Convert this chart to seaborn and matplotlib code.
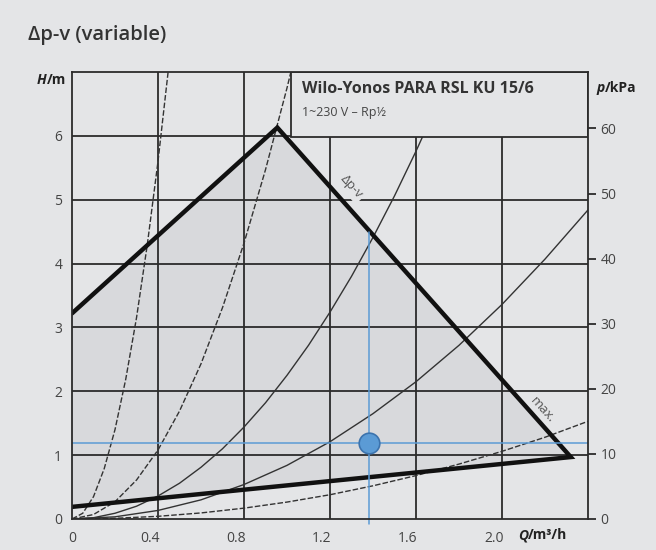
import numpy as np
import pandas as pd
import seaborn as sns
import matplotlib.pyplot as plt
from matplotlib.patches import Rectangle
from matplotlib.transforms import ScaledTranslation

# system curves (Q in m3/h, H in m)
q_a = [0, 0.05, 0.1, 0.15, 0.2, 0.25, 0.3, 0.35, 0.4, 0.447]
h_a = [0, 0.09, 0.35, 0.79, 1.4, 2.19, 3.15, 4.29, 5.6, 7.0]
q_b = [0, 0.1, 0.2, 0.3, 0.4, 0.5, 0.6, 0.7, 0.8, 0.9, 1.0, 1.018]
h_b = [0, 0.07, 0.27, 0.61, 1.08, 1.69, 2.43, 3.31, 4.32, 5.47, 6.75, 7.0]
q_c = [0, 0.1, 0.2, 0.3, 0.4, 0.5, 0.6, 0.7, 0.8, 0.9, 1.0, 1.1, 1.2, 1.3,
       1.4, 1.5, 1.6, 1.7]
h_c = [0, 0.02, 0.09, 0.20, 0.36, 0.56, 0.81, 1.10, 1.44, 1.82, 2.25, 2.72,
       3.24, 3.80, 4.41, 5.06, 5.76, 6.50]
q_d = [0, 0.2, 0.4, 0.6, 0.8, 1.0, 1.2, 1.4, 1.6, 1.8, 2.0, 2.2, 2.4]
h_d = [0, 0.034, 0.134, 0.30, 0.54, 0.84, 1.21, 1.65, 2.15, 2.72, 3.36, 4.07,
       4.84]
q_e = [0, 0.2, 0.4, 0.6, 0.8, 1.0, 1.2, 1.4, 1.6, 1.8, 2.0, 2.2, 2.4]
h_e = [0, 0.011, 0.042, 0.095, 0.17, 0.265, 0.38, 0.52, 0.68, 0.86, 1.06,
       1.28, 1.53]

# operating range of the pump (Δp-v): left, top, right, bottom-left
q_range = [0, 0.955, 2.32, 0]
h_range = [3.22, 6.13, 0.97, 0.19]

# duty point
q_point = 1.38
h_point = 1.19

x_ticks = [0, 0.4, 0.8, 1.2, 1.6, 2.0]
x_labels = ["0", "0.4", "0.8", "1.2", "1.6", "2.0"]
y_ticks = [0, 1, 2, 3, 4, 5, 6]
kpa_ticks = [0, 10, 20, 30, 40, 50, 60]

bg = "#e4e5e7"
ink = "#2b2b2b"
blue = "#5b9bd5"

sns.set_theme(style="white")
plt.rcParams["font.family"] = ["Open Sans", "DejaVu Sans"]

fig = plt.figure(figsize=(6.56, 5.5), dpi=100, facecolor=bg)
ax = fig.add_axes([72 / 656, 1 - 519 / 550, 516 / 656, 447 / 550])
ax.set_facecolor(bg)
ax.set_xlim(0, 2.4)
ax.set_ylim(0, 7)

# shaded operating range
ax.fill(q_range, h_range, color="#d8d9dc", zorder=1, lw=0)

# grid
for x in x_ticks[1:]:
    ax.axvline(x, color=ink, lw=1.3, zorder=2)
for y in y_ticks[1:]:
    ax.axhline(y, color=ink, lw=1.3, zorder=2)

curves = [(q_a, h_a, True), (q_b, h_b, True), (q_c, h_c, False),
          (q_d, h_d, False), (q_e, h_e, True)]
for q, h, dashed in curves:
    df = pd.DataFrame({"Q": q, "H": h})
    sns.lineplot(data=df, x="Q", y="H", ax=ax, color="#333333", lw=1.0,
                 sort=False, estimator=None, zorder=3)
    if dashed:
        ax.lines[-1].set_dashes((4, 1.5))

# thick outline (open along the H axis)
rng = pd.DataFrame({"Q": q_range, "H": h_range})
sns.lineplot(data=rng, x="Q", y="H", ax=ax, color="#111111", lw=3.2,
             sort=False, estimator=None, zorder=4)
ax.lines[-1].set_solid_joinstyle("miter")

# blue duty point lines
ax.plot([0, 2.4], [h_point, h_point], color=blue, lw=1.1, zorder=5)
ax.plot([q_point, q_point], [4.5, -0.08], color=blue, lw=1.1, zorder=5,
        clip_on=False)
sns.scatterplot(x=[q_point], y=[h_point], ax=ax, s=220, color=blue,
                edgecolor="#3c73ad", linewidth=1.2, zorder=6)

# line labels
ax.text(1.30, 5.2, "Δp-v", rotation=-48, rotation_mode="anchor",
        ha="center", va="center", fontsize=9.5, color="#555555", zorder=4,
        bbox=dict(facecolor=bg, edgecolor="none", pad=1.5))
ax.text(2.19, 1.71, "max.", rotation=-48, rotation_mode="anchor",
        ha="center", va="center", fontsize=9.5, color="#555555", zorder=4)

# product box
ax.add_patch(Rectangle((1.02, 5.98), 1.38, 1.02, facecolor=bg,
                       edgecolor=ink, lw=1.3, zorder=7))
ax.text(1.07, 6.73, "Wilo-Yonos PARA RSL KU 15/6", fontsize=11.5,
        fontweight="bold", color="#333333", va="center", zorder=8)
ax.text(1.07, 6.37, "1~230 V – Rp½", fontsize=9, color="#444444",
        va="center", zorder=8)

# axes and ticks
for s in ax.spines.values():
    s.set_color(ink)
    s.set_linewidth(1.3)
    s.set_zorder(9)
ax.set_xticks(x_ticks)
ax.set_xticklabels(x_labels)
ax.set_yticks(y_ticks)
ax.tick_params(axis="both", length=0, labelsize=10, labelcolor="#444444")
ax.tick_params(axis="x", pad=9)
ax.tick_params(axis="y", pad=7)
for lbl in ax.get_xticklabels()[1:]:
    lbl.set_transform(lbl.get_transform() + ScaledTranslation(-0.08, 0, fig.dpi_scale_trans))
ax.set_xlabel("")
ax.set_ylabel("")

ax2 = ax.twinx()
ax2.set_ylim(0, 7 * 9.81)
ax2.set_yticks(kpa_ticks)
ax2.tick_params(axis="y", length=6, width=1.3, color=ink, pad=3,
                labelsize=10, labelcolor="#444444")
for s in ax2.spines.values():
    s.set_visible(False)
ax2.grid(False)

# axis titles with italic variable
def axis_title(x, y, var, unit, ha):
    if ha == "right":
        t = ax.text(x, y, unit, transform=ax.transAxes, ha="right", va="center",
                    fontsize=10, fontweight="bold", color="#222222")
        ax.annotate(var, xy=(0, 0), xycoords=t, ha="right", va="bottom",
                    fontsize=10, fontweight="bold", style="italic", color="#222222")
    else:
        t = ax.text(x, y, var, transform=ax.transAxes, ha="left", va="center",
                    fontsize=10, fontweight="bold", style="italic", color="#222222")
        ax.annotate(unit, xy=(1, 0), xycoords=t, ha="left", va="bottom",
                    fontsize=10, fontweight="bold", color="#222222",
                    annotation_clip=False)

axis_title(-0.012, 0.982, "H", "/m", "right")
axis_title(1.017, 0.964, "p", "/kPa", "left")
axis_title(0.864, -0.036, "Q", "/m³/h", "left")

fig.text(28 / 656, 1 - 35 / 550, "Δp-v (variable)", fontsize=14.5,
         fontweight="semibold", color="#333333", va="center", ha="left")

fig.savefig("out.png", dpi=100, facecolor=bg)
